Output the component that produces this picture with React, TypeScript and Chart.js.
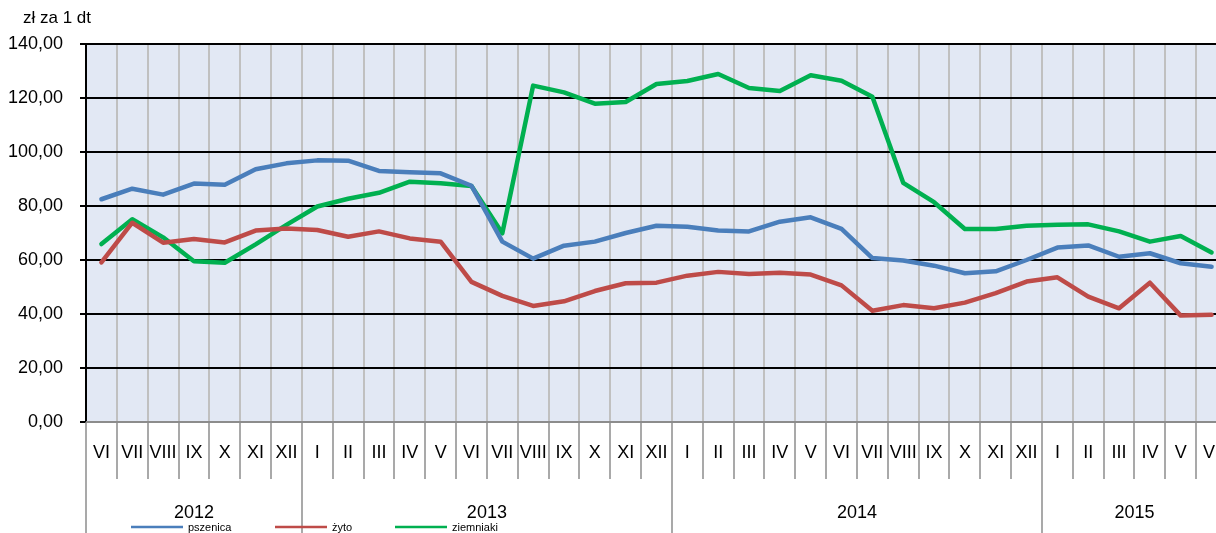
import React, { useEffect, useRef } from "react";
import { Chart, registerables } from "chart.js";

Chart.register(...registerables);

const monthLabels = [
  "VI", "VII", "VIII", "IX", "X", "XI", "XII",
  "I", "II", "III", "IV", "V", "VI", "VII", "VIII", "IX", "X", "XI", "XII",
  "I", "II", "III", "IV", "V", "VI", "VII", "VIII", "IX", "X", "XI", "XII",
  "I", "II", "III", "IV", "V", "VI",
];
const yearLabels = ["2012", "2013", "2014", "2015"];
const yearSpans = [7, 12, 12, 6];

const pszenica = [
  82.5, 86.4, 84.2, 88.3, 87.9, 93.6, 95.8,
  96.9, 96.8, 93.0, 92.5, 92.1, 87.5, 66.8, 60.5, 65.3, 66.8, 70.0, 72.7,
  72.3, 70.9, 70.6, 74.2, 75.8, 71.5, 60.7, 59.8, 57.9, 55.1, 55.8, 60.0,
  64.6, 65.4, 61.2, 62.5, 58.8, 57.5,
];
const zyto = [
  59.1, 73.8, 66.4, 67.8, 66.5, 70.9, 71.7,
  71.1, 68.6, 70.6, 68.0, 66.8, 51.9, 46.7, 43.0, 44.7, 48.5, 51.4, 51.6,
  54.2, 55.6, 54.8, 55.3, 54.6, 50.6, 41.2, 43.3, 42.1, 44.2, 47.7, 52.0,
  53.6, 46.4, 42.1, 51.6, 39.4, 39.7,
];
const ziemniaki = [
  65.9, 75.1, 68.4, 59.5, 59.0, 65.8, 73.0,
  79.8, 82.7, 84.9, 89.0, 88.4, 87.4, 69.9, 124.6, 122.1, 117.9, 118.5, 125.2,
  126.3, 128.9, 123.7, 122.6, 128.4, 126.4, 120.5, 88.6, 81.4, 71.5, 71.5, 72.7,
  73.1, 73.2, 70.6, 66.8, 68.9, 62.8,
];

const seriesNames = ["pszenica", "żyto", "ziemniaki"];
const seriesColors = ["#4a7ebb", "#be4b48", "#00b050"];
const yTitle = "zł za 1 dt";

const FONT = "'Liberation Sans', Arial, Helvetica, sans-serif";

export default function App() {
  const ref = useRef<HTMLCanvasElement>(null);

  useEffect(() => {
    const canvas = ref.current!;
    const customPlugin = {
      id: "custom",
      beforeDraw(chart: any) {
        const { ctx, chartArea } = chart;
        const { left, right, top, bottom } = chartArea;
        ctx.save();
        ctx.fillStyle = "#e2e8f4";
        ctx.fillRect(left, top, right - left, bottom - top);
        const n = monthLabels.length;
        const w = (right - left) / n;
        ctx.strokeStyle = "#c0c0c0";
        ctx.lineWidth = 2;
        for (let i = 1; i < n; i++) {
          const x = Math.round(left + i * w);
          ctx.beginPath();
          ctx.moveTo(x, top);
          ctx.lineTo(x, bottom);
          ctx.stroke();
        }
        ctx.restore();
      },
      beforeDatasetsDraw(chart: any) {
        const { ctx, chartArea } = chart;
        ctx.save();
        ctx.strokeStyle = "#8c8c8c";
        ctx.lineWidth = 2;
        ctx.beginPath();
        ctx.moveTo(chartArea.left, chartArea.bottom);
        ctx.lineTo(chartArea.right, chartArea.bottom);
        ctx.stroke();
        ctx.restore();
      },
      afterDraw(chart: any) {
        const { ctx, chartArea } = chart;
        const { left, right, bottom } = chartArea;
        const xs = chart.scales.x;
        const n = monthLabels.length;
        const w = (right - left) / n;
        const H = chart.height;
        ctx.save();
        ctx.strokeStyle = "#8c8c8c";
        ctx.lineWidth = 1.5;
        const yearStarts = new Set<number>();
        let acc = 0;
        yearSpans.forEach((s) => {
          yearStarts.add(acc);
          acc += s;
        });
        for (let i = 0; i <= n; i++) {
          const x = Math.round(left + i * w);
          ctx.beginPath();
          ctx.moveTo(x, bottom);
          ctx.lineTo(x, yearStarts.has(i) ? H : bottom + 57);
          ctx.stroke();
        }
        ctx.fillStyle = "#000";
        ctx.font = `18px ${FONT}`;
        ctx.textAlign = "center";
        ctx.textBaseline = "middle";
        monthLabels.forEach((m, i) => {
          ctx.fillText(m, xs.getPixelForValue(i), bottom + 31);
        });
        acc = 0;
        yearLabels.forEach((yl, k) => {
          const c = left + (acc + yearSpans[k] / 2) * w;
          ctx.fillText(yl, c, bottom + 91);
          acc += yearSpans[k];
        });
        ctx.textAlign = "left";
        ctx.font = `17px ${FONT}`;
        ctx.fillText(yTitle, 23, 18);
        const legX = [131, 275, 395];
        ctx.font = `11px ${FONT}`;
        seriesNames.forEach((name, k) => {
          ctx.strokeStyle = seriesColors[k];
          ctx.lineWidth = 2.5;
          ctx.beginPath();
          ctx.moveTo(legX[k], 527);
          ctx.lineTo(legX[k] + 52, 527);
          ctx.stroke();
          ctx.fillStyle = "#000";
          ctx.fillText(name, legX[k] + 57, 528);
        });
        ctx.restore();
      },
    };

    const series = [pszenica, zyto, ziemniaki];
    const chart = new Chart(canvas, {
      type: "line",
      data: {
        labels: monthLabels,
        datasets: series.map((d, k) => ({
          label: seriesNames[k],
          data: d,
          borderColor: seriesColors[k],
          backgroundColor: seriesColors[k],
          borderWidth: 4.5,
          pointRadius: 0,
          tension: 0,
          borderJoinStyle: "round" as const,
          borderCapStyle: "round" as const,
        })),
      },
      options: {
        responsive: false,
        animation: false,
        layout: { padding: { top: 44, right: 13, left: 0, bottom: 0 } },
        plugins: {
          legend: { display: false },
          tooltip: { enabled: false },
        },
        scales: {
          x: {
            type: "category",
            offset: true,
            grid: { display: false },
            border: { display: false },
            ticks: { display: false },
            afterFit: (s: any) => {
              s.height = 111;
            },
          },
          y: {
            min: 0,
            max: 140,
            ticks: {
              stepSize: 20,
              color: "#000",
              padding: 17,
              font: { family: FONT, size: 18 },
              callback: (v: any) => Number(v).toFixed(2).replace(".", ","),
            },
            grid: { color: "#000", lineWidth: 2, tickLength: 6, drawTicks: true },
            border: { display: true, color: "#000", width: 2 },
            afterFit: (s: any) => {
              s.width = 86;
            },
          },
        },
      },
      plugins: [customPlugin],
    });
    return () => chart.destroy();
  }, []);

  return (
    <div
      style={{
        position: "absolute",
        left: 0,
        top: 0,
        width: 1216,
        height: 533,
        overflow: "hidden",
        background: "#fff",
      }}
    >
      <canvas ref={ref} width={1240} height={533} style={{ display: "block" }} />
    </div>
  );
}
